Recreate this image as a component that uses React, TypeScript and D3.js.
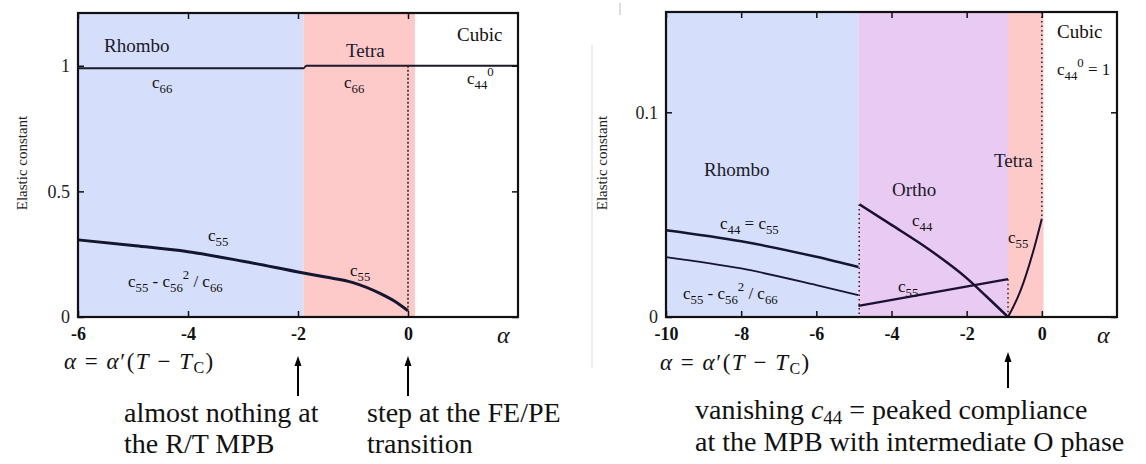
import React, { useEffect, useRef } from 'react';
import * as d3 from 'd3';

// ---- data ----
// phase windows (alpha range)
const leftPhases = [
  { name: 'Rhombo', from: -6, to: -1.9 },
  { name: 'Tetra', from: -1.9, to: 0.13 },
  { name: 'Cubic', from: 0.13, to: 2 },
];
const rightPhases = [
  { name: 'Rhombo', from: -10, to: -4.88 },
  { name: 'Ortho', from: -4.88, to: -0.9 },
  { name: 'Tetra', from: -0.9, to: 0.05 },
  { name: 'Cubic', from: 0.05, to: 2 },
];

const leftXTicks = [-6, -4, -2, 0];
const leftYTicks = [0, 0.5, 1];
const rightXTicks = [-10, -8, -6, -4, -2, 0];
const rightYTicks = [0, 0.1];

// left panel curves [alpha, value]
const leftC66: [number, number][] = [[-6, 0.99], [-1.9, 0.99], [-1.85, 1.0], [2, 1.0]];
const leftC55: [number, number][] = [
  [-6, 0.307], [-5, 0.285], [-4, 0.26], [-3, 0.222], [-1.9, 0.175],
  [-1.5, 0.159], [-1, 0.137], [-0.5, 0.093], [-0.2, 0.057], [0, 0.025],
];

// right panel curves
const rightC44Rhombo: [number, number][] = [[-10, 0.0424], [-8, 0.037], [-6, 0.0294], [-4.88, 0.0244]];
const rightEffRhombo: [number, number][] = [[-10, 0.0293], [-8, 0.0237], [-6, 0.0156], [-4.88, 0.0107]];
const rightC44Ortho: [number, number][] = [[-4.85, 0.055], [-4, 0.045], [-3, 0.033], [-2, 0.019], [-1.5, 0.0105], [-0.9, 0]];
const rightC55Ortho: [number, number][] = [[-4.88, 0.0054], [-0.9, 0.0185]];
const rightC55Tetra: [number, number][] = [[-0.9, 0], [-0.56, 0.0132], [-0.2, 0.034], [0, 0.048]];

const phaseColor: Record<string, string> = {
  Rhombo: '#d5dffb',
  Tetra: '#fec9c9',
  Ortho: '#e9caf2',
  Cubic: '#ffffff',
};

const serif = "'Liberation Serif', Tinos, 'Times New Roman', 'Noto Serif', 'DejaVu Serif', FreeSerif, serif";

type Seg = { t: string; s?: 'sub' | 'sup' };

// text with sub/superscripts
const Label = ({ x, y, segs, size = 17, anchor = 'start' }: { x: number; y: number; segs: Seg[]; size?: number; anchor?: string }) => {
  let cur = 0;
  return (
    <text x={x} y={y} textAnchor={anchor} fill="#111" style={{ fontFamily: serif, fontSize: size }}>
      {segs.map((g, i) => {
        const target = g.s === 'sub' ? size * 0.3 : g.s === 'sup' ? -size * 0.45 : 0;
        const dy = target - cur;
        cur = target;
        return (
          <tspan key={i} dy={dy} style={{ fontSize: g.s ? size * 0.75 : size }}>
            {g.t}
          </tspan>
        );
      })}
    </text>
  );
};

const T = ({ x, y, size = 19, italic = false, children, fill = '#1a1a2a' }: any) => (
  <text x={x} y={y} fill={fill} style={{ fontFamily: serif, fontSize: size, fontStyle: italic ? 'italic' : 'normal' }}>
    {children}
  </text>
);

const App = () => {
  const axRef = useRef<SVGGElement>(null);

  const xL = d3.scaleLinear().domain([-6, 2]).range([78, 518]);
  const yL = d3.scaleLinear().domain([0, 1.21]).range([317, 13]);
  const xR = d3.scaleLinear().domain([-10, 2]).range([666, 1117]);
  const yR = d3.scaleLinear().domain([0, 0.149]).range([317, 12]);

  const lineL = d3.line<[number, number]>().x((d) => xL(d[0])).y((d) => yL(d[1])).curve(d3.curveMonotoneX);
  const lineR = d3.line<[number, number]>().x((d) => xR(d[0])).y((d) => yR(d[1])).curve(d3.curveMonotoneX);

  useEffect(() => {
    const g = d3.select(axRef.current);
    g.selectAll('*').remove();

    const panels = [
      { x: xL, y: yL, xt: leftXTicks, yt: leftYTicks, yfmt: (d: number) => (d === 0 ? '0' : d === 1 ? '1' : '0.5') },
      { x: xR, y: yR, xt: rightXTicks, yt: rightYTicks, yfmt: (d: number) => (d === 0 ? '0' : '0.1') },
    ];

    panels.forEach((p) => {
      const [x0, x1] = p.x.range();
      const [y0, y1] = p.y.range();
      // bottom
      const b = g.append('g').attr('transform', `translate(0,${y0})`)
        .call(d3.axisBottom(p.x).tickValues(p.xt).tickSize(-6).tickPadding(10).tickFormat((d) => `${d}`));
      b.selectAll('text').style('font-family', serif).style('font-size', '18px').style('font-weight', 'bold').attr('fill', '#111');
      // top
      g.append('g').attr('transform', `translate(0,${y1})`)
        .call(d3.axisTop(p.x).tickValues(p.xt).tickSize(-6).tickFormat(() => ''));
      // left
      const l = g.append('g').attr('transform', `translate(${x0},0)`)
        .call(d3.axisLeft(p.y).tickValues(p.yt).tickSize(-6).tickPadding(8).tickFormat((d) => p.yfmt(+d)));
      l.selectAll('text').style('font-family', serif).style('font-size', '18px').attr('fill', '#222');
      // right
      g.append('g').attr('transform', `translate(${x1},0)`)
        .call(d3.axisRight(p.y).tickValues(p.yt).tickSize(-6).tickFormat(() => ''));

      g.selectAll('.domain').remove();
      g.selectAll('.tick line').attr('stroke', '#111').attr('stroke-width', 1.5);
      g.append('rect').attr('x', x0).attr('y', y1).attr('width', x1 - x0).attr('height', y0 - y1)
        .attr('fill', 'none').attr('stroke', '#111').attr('stroke-width', 2.2);
    });
  }, []);

  const alphaEq = (x: number, y: number) => (
    <text x={x} y={y} fill="#111" style={{ fontFamily: serif, fontSize: 23, letterSpacing: 1.5 }}>
      <tspan fontStyle="italic">α</tspan>
      <tspan> = </tspan>
      <tspan fontStyle="italic">α</tspan>
      <tspan>′(</tspan>
      <tspan fontStyle="italic">T</tspan>
      <tspan> − </tspan>
      <tspan fontStyle="italic">T</tspan>
      <tspan dy={4} style={{ fontSize: 16 }}>C</tspan>
      <tspan dy={-4}>)</tspan>
    </text>
  );

  const arrow = (x: number, yTop: number, yBot: number) => (
    <g>
      <line x1={x} x2={x} y1={yBot} y2={yTop + 8} stroke="#000" strokeWidth={2} />
      <path d={`M${x - 3.5},${yTop + 10}L${x},${yTop}L${x + 3.5},${yTop + 10}Z`} fill="#000" />
    </g>
  );

  const eff: Seg[] = [{ t: 'c' }, { t: '55', s: 'sub' }, { t: ' -  c' }, { t: '56', s: 'sub' }, { t: '2', s: 'sup' }, { t: ' / c' }, { t: '66', s: 'sub' }];

  return (
    <svg width={1146} height={464} style={{ position: 'absolute', left: 0, top: 0, background: '#fff' }}>
      {/* phase backgrounds */}
      {leftPhases.map((p) => (
        <rect key={'l' + p.name} x={xL(p.from)} y={yL(1.21)} width={xL(p.to) - xL(p.from)} height={yL(0) - yL(1.21)} fill={phaseColor[p.name]} />
      ))}
      {rightPhases.map((p) => (
        <rect key={'r' + p.name} x={xR(p.from)} y={yR(0.149)} width={xR(p.to) - xR(p.from)} height={yR(0) - yR(0.149)} fill={phaseColor[p.name]} />
      ))}

      {/* faint edge of the pasted right figure */}
      <line x1={592} x2={592} y1={45} y2={368} stroke="#ddd" strokeWidth={1} />
      <line x1={620} x2={620} y1={3} y2={15} stroke="#bbb" strokeWidth={1} />

      {/* left curves */}
      <path d={lineL(leftC66) ?? ''} fill="none" stroke="#1a1a2a" strokeWidth={1.8} />
      <path d={lineL(leftC55) ?? ''} fill="none" stroke="#151530" strokeWidth={3} />
      <line x1={xL(0)} x2={xL(0)} y1={yL(1)} y2={yL(0.025)} stroke="#222" strokeWidth={1.5} strokeDasharray="2,2" />

      {/* right curves */}
      <path d={lineR(rightC44Rhombo) ?? ''} fill="none" stroke="#151530" strokeWidth={2.5} />
      <path d={lineR(rightEffRhombo) ?? ''} fill="none" stroke="#151530" strokeWidth={1.8} />
      <path d={lineR(rightC44Ortho) ?? ''} fill="none" stroke="#1a1030" strokeWidth={2.5} />
      <path d={lineR(rightC55Ortho) ?? ''} fill="none" stroke="#1a1030" strokeWidth={2.2} />
      <path d={lineR(rightC55Tetra) ?? ''} fill="none" stroke="#1a1030" strokeWidth={2} />
      <line x1={xR(-4.86)} x2={xR(-4.86)} y1={yR(0.055)} y2={yR(0)} stroke="#222" strokeWidth={1.5} strokeDasharray="1.5,3" />
      <line x1={xR(-0.9)} x2={xR(-0.9)} y1={yR(0.0185)} y2={yR(0)} stroke="#222" strokeWidth={1.5} strokeDasharray="1.5,3" />
      <line x1={xR(0)} x2={xR(0)} y1={yR(0.149)} y2={yR(0.048)} stroke="#222" strokeWidth={1.5} strokeDasharray="1.5,3" />

      <g ref={axRef} />

      {/* left panel labels */}
      <T x={104} y={52}>Rhombo</T>
      <T x={346} y={57}>Tetra</T>
      <T x={457} y={41} fill="#111">Cubic</T>
      <Label x={152} y={88} segs={[{ t: 'c' }, { t: '66', s: 'sub' }]} />
      <Label x={344} y={88} segs={[{ t: 'c' }, { t: '66', s: 'sub' }]} />
      <Label x={467} y={84} segs={[{ t: 'c' }, { t: '44', s: 'sub' }, { t: '0', s: 'sup' }]} />
      <Label x={208} y={241} segs={[{ t: 'c' }, { t: '55', s: 'sub' }]} />
      <Label x={350} y={276} segs={[{ t: 'c' }, { t: '55', s: 'sub' }]} />
      <Label x={128} y={287} segs={eff} />
      <text transform="translate(27,163) rotate(-90)" textAnchor="middle" fill="#222" style={{ fontFamily: serif, fontSize: 15 }}>Elastic constant</text>
      <T x={497} y={343} size={24} italic fill="#111">α</T>
      {alphaEq(64, 369)}

      {/* right panel labels */}
      <T x={1057} y={38} fill="#111">Cubic</T>
      <Label x={1057} y={75} segs={[{ t: 'c' }, { t: '44', s: 'sub' }, { t: '0', s: 'sup' }, { t: ' = 1' }]} />
      <T x={704} y={176}>Rhombo</T>
      <T x={892} y={196}>Ortho</T>
      <T x={994} y={167}>Tetra</T>
      <Label x={720} y={229} segs={[{ t: 'c' }, { t: '44', s: 'sub' }, { t: ' = c' }, { t: '55', s: 'sub' }]} />
      <Label x={683} y={299} segs={eff} />
      <Label x={912} y={226} segs={[{ t: 'c' }, { t: '44', s: 'sub' }]} />
      <Label x={898} y={292} segs={[{ t: 'c' }, { t: '55', s: 'sub' }]} />
      <Label x={1008} y={243} segs={[{ t: 'c' }, { t: '55', s: 'sub' }]} />
      <text transform="translate(607,163) rotate(-90)" textAnchor="middle" fill="#222" style={{ fontFamily: serif, fontSize: 15 }}>Elastic constant</text>
      <T x={1097} y={343} size={24} italic fill="#111">α</T>
      {alphaEq(660, 370)}

      {/* annotations */}
      {arrow(xL(-2), 356, 396)}
      {arrow(xL(0), 356, 396)}
      {arrow(xR(-0.9), 352, 388)}
      <text fill="#111" style={{ fontFamily: serif, fontSize: 28 }}>
        <tspan x={124} y={422}>almost nothing at</tspan>
        <tspan x={124} y={453}>the R/T MPB</tspan>
      </text>
      <text fill="#111" style={{ fontFamily: serif, fontSize: 28 }}>
        <tspan x={367} y={422}>step at the FE/PE</tspan>
        <tspan x={367} y={453}>transition</tspan>
      </text>
      <text fill="#111" style={{ fontFamily: serif, fontSize: 28 }}>
        <tspan x={695} y={419}>vanishing </tspan>
        <tspan fontStyle="italic">c</tspan>
        <tspan dy={5} style={{ fontSize: 19 }}>44</tspan>
        <tspan dy={-5}> = peaked compliance</tspan>
        <tspan x={695} y={451}>at the MPB with intermediate O phase</tspan>
      </text>
    </svg>
  );
};

export default App;
